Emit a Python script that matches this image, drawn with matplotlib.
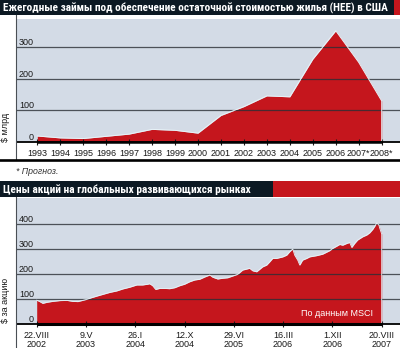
import os
import numpy as np
import matplotlib
matplotlib.use("Agg")
import matplotlib.pyplot as plt
import matplotlib.dates as mdates
import matplotlib.transforms as mtransforms
from matplotlib.patches import Rectangle
from matplotlib.lines import Line2D
from matplotlib import font_manager
from matplotlib.font_manager import FontProperties

# ---------------- data ----------------
hee_years = [1993, 1994, 1995, 1996, 1997, 1998, 1999, 2000,
             2001, 2002, 2003, 2004, 2005, 2006, 2007, 2008]
hee_values = [18, 12, 10, 17, 24, 39, 36, 27,
              83, 111, 145, 142, 261, 351, 251, 129]
hee_labels = ['1993', '1994', '1995', '1996', '1997', '1998', '1999', '2000',
              '2001', '2002', '2003', '2004', '2005', '2006', '2007*', '2008*']
hee_grid = [100, 200, 300]
hee_ticklabels = [0, 100, 200, 300]

msci_dates = [
    '2002-08-22', '2002-09-07', '2002-09-23', '2002-10-14', '2002-11-15',
    '2002-12-22', '2003-01-28', '2003-02-28', '2003-03-27', '2003-04-17',
    '2003-05-13', '2003-06-09', '2003-07-05', '2003-08-06', '2003-09-12',
    '2003-10-19', '2003-11-20', '2003-12-27', '2004-02-02', '2004-03-04',
    '2004-03-31', '2004-04-10', '2004-04-26', '2004-05-12', '2004-06-02',
    '2004-06-29', '2004-07-25', '2004-08-21', '2004-09-16', '2004-10-12',
    '2004-11-08', '2004-12-04', '2004-12-31', '2005-01-26', '2005-02-22',
    '2005-03-10', '2005-04-05', '2005-05-01', '2005-05-28', '2005-06-23',
    '2005-07-20', '2005-08-15', '2005-09-21', '2005-10-07', '2005-10-28',
    '2005-11-29', '2005-12-20', '2006-01-05', '2006-01-21', '2006-02-11',
    '2006-02-27', '2006-03-15', '2006-04-05', '2006-04-21', '2006-05-07',
    '2006-05-17', '2006-06-02', '2006-06-13', '2006-06-28', '2006-07-20',
    '2006-08-04', '2006-09-10', '2006-10-12', '2006-11-18', '2006-12-04',
    '2006-12-25', '2007-01-10', '2007-01-26', '2007-02-16', '2007-03-04',
    '2007-03-15', '2007-03-30', '2007-04-15', '2007-05-12', '2007-06-02',
    '2007-06-18', '2007-07-04', '2007-07-15', '2007-07-25', '2007-08-05',
    '2007-08-10', '2007-08-20']
msci_values = [
    94, 88, 81, 85, 89,
    92, 93, 89, 88, 92,
    97, 104, 110, 117, 125,
    131, 139, 146, 155, 155,
    158, 160, 152, 137, 141,
    141, 140, 144, 152, 158,
    168, 175, 178, 187, 195,
    186, 179, 182, 184, 191,
    198, 215, 222, 212, 208,
    228, 235, 248, 262, 262,
    265, 268, 275, 289, 300,
    275, 255, 235, 255, 262,
    268, 273, 279, 293, 302,
    311, 318, 315, 322, 326,
    306, 322, 336, 349, 356,
    365, 379, 392, 405, 396,
    383, 360]
msci_tick_dates = ['2002-08-22', '2003-05-09', '2004-01-26', '2004-10-12',
                   '2005-06-29', '2006-03-16', '2006-12-01', '2007-08-20']
msci_tick_labels = ['22.VIII\n2002', '9.V\n2003', '26.I\n2004', '12.X\n2004',
                    '29.VI\n2005', '16.III\n2006', '1.XII\n2006', '20.VIII\n2007']
msci_grid = [100, 200, 300, 400]
msci_ticklabels = [0, 100, 200, 300, 400]

title_top = 'Ежегодные займы под обеспечение остаточной стоимостью жилья (HEE) в США'
title_bottom = 'Цены акций на глобальных развивающихся рынках'

# ---------------- style ----------------
NAVY = '#0c1923'
RED = '#c5161d'
BG = '#d3dbe6'
GRID = '#2a2e35'
EDGE = '#e8f3f8'


def pick_family(candidates):
    for fam in candidates:
        try:
            font_manager.findfont(FontProperties(family=fam),
                                  fallback_to_default=False)
            return fam
        except Exception:
            continue
    return 'DejaVu Sans'


def is_bold(entry):
    w = entry.weight
    if isinstance(w, str):
        return w in ('bold', 'heavy', 'black', 'extra bold', 'semibold', 'demibold')
    return w >= 600


def narrow_bold_font():
    """Return FontProperties of a bold narrow face, best first."""
    order = ['liberation sans narrow', 'arial narrow', 'roboto condensed',
             'noto sans', 'open sans', 'dejavu sans']
    found = {}
    for e in font_manager.fontManager.ttflist:
        base = os.path.basename(e.fname).lower()
        narrow = ('narrow' in base or 'condensed' in base
                  or e.stretch in ('condensed', 'semi-condensed', 'extra-condensed'))
        if not narrow or 'semicondensed' in base or 'extracondensed' in base \
                or 'italic' in base or 'oblique' in base or not is_bold(e):
            continue
        name = e.name.lower()
        for i, key in enumerate(order):
            if name.startswith(key):
                if i not in found or 'bold.' in base:
                    found[i] = e.fname
    if found:
        return FontProperties(fname=found[min(found)])
    return FontProperties(family=pick_family(['Liberation Sans', 'DejaVu Sans']),
                          weight='bold')


SANS = pick_family(['Liberation Sans', 'Arial', 'DejaVu Sans'])
plt.rcParams['font.family'] = [SANS, 'DejaVu Sans']
TITLE_FP = narrow_bold_font()

W, H, DPI = 400, 348, 100
fig = plt.figure(figsize=(W / DPI, H / DPI), dpi=DPI, facecolor='white')
# pixel coordinates measured from the top-left corner
pix = mtransforms.Affine2D().scale(1 / W, -1 / H).translate(0, 1) + fig.transFigure
renderer = fig.canvas.get_renderer()


def add_px_axes(x0, y0, x1, y1):
    return fig.add_axes([x0 / W, 1 - y1 / H, (x1 - x0) / W, (y1 - y0) / H])


def title_bar(y0, y1, split, text):
    fig.add_artist(Rectangle((0, y0), split, y1 - y0, transform=pix,
                             facecolor=NAVY, edgecolor='none'))
    fig.add_artist(Rectangle((split, y0), W - split, y1 - y0, transform=pix,
                             facecolor=RED, edgecolor='none'))
    t = fig.text(3, (y0 + y1) / 2 + 0.5, text, transform=pix, color='white',
                 fontproperties=TITLE_FP.copy(), ha='left', va='center')
    t.set_fontsize(9.3)
    return t


def style_axes(ax, grid_vals, label_vals, ymax):
    ax.set_facecolor(BG)
    for s in ax.spines.values():
        s.set_visible(False)
    ax.set_ylim(0, ymax)
    ax.set_yticks([])
    for v in grid_vals:
        ax.axhline(v, color=GRID, lw=0.9, alpha=0.8, zorder=2.5)
    ax.axhline(0, color='black', lw=1.3, zorder=4, clip_on=False)
    lab_tr = mtransforms.offset_copy(
        mtransforms.blended_transform_factory(ax.transAxes, ax.transData),
        fig=fig, x=0, y=2, units='dots')
    xr = (34 - 16.5) / (W - 16.5)
    for v in label_vals:
        ax.text(xr, v, str(v), transform=lab_tr, ha='right', va='baseline',
                fontsize=6.5, color='#1a1a1a', zorder=5)
    ax.tick_params(axis='x', direction='inout', length=4.5, width=0.8,
                   color='#1a1a1a', labelsize=6.5, labelcolor='#1a1a1a')


# ---------------- top chart ----------------
t_top = title_bar(0, 15, 394, title_top)
ax1 = add_px_axes(16.5, 18.5, W, 141.7)
style_axes(ax1, hee_grid, hee_ticklabels, 390)
ax1.set_xlim(1992.094, 2008.797)
ax1.fill_between(hee_years, hee_values, 0, color=RED, lw=0, zorder=1)
ax1.plot(hee_years + [hee_years[-1]], hee_values + [0], color=EDGE, lw=0.7, zorder=3)
ax1.plot([hee_years[0], hee_years[-1]], [0, 0], color='black', lw=1.8,
         solid_capstyle='butt', zorder=4, clip_on=False)
ax1.set_xticks(hee_years)
ax1.set_xticklabels(hee_labels)
ax1.tick_params(axis='x', pad=3.2)

fig.add_artist(Line2D([16, 16], [15, 159], transform=pix, color='#4a4f55', lw=0.8))
fig.add_artist(Line2D([0, W], [159.7, 159.7], transform=pix, color='black', lw=1.9))
fig.text(16, 172, '* Прогноз.', transform=pix, fontsize=6.3, style='italic',
         color='#333333', ha='left', va='center')
fig.text(5.5, 142, '$ млрд', transform=pix, fontsize=6.5, rotation=90,
         ha='center', va='bottom', color='#1a1a1a')

# ---------------- bottom chart ----------------
t_bot = title_bar(181, 197.3, 273, title_bottom)
ax2 = add_px_axes(16.5, 198.3, W, 323.5)
style_axes(ax2, msci_grid, msci_ticklabels, 504)
d = mdates.date2num(np.array(msci_dates, dtype='datetime64[D]'))
t = mdates.date2num(np.array(msci_tick_dates, dtype='datetime64[D]'))
ax2.set_xlim(d[0] - 106.8, d[0] + 1920.8)
ax2.fill_between(d, msci_values, 0, color=RED, lw=0, zorder=1)
ax2.plot(np.append(d, d[-1]), msci_values + [0], color=EDGE, lw=0.6, zorder=3)
ax2.plot([d[0], d[-1]], [0, 0], color='black', lw=2.2,
         solid_capstyle='butt', zorder=4, clip_on=False)
ax2.set_xticks(t)
ax2.set_xticklabels(msci_tick_labels, linespacing=1.05)
ax2.tick_params(axis='x', pad=3.0)
ax2.text(0.93, 0.045, 'По данным MSCI', transform=ax2.transAxes, color='white',
         fontsize=6.5, ha='right', va='bottom', zorder=5)

fig.add_artist(Line2D([16, 16], [197.3, H], transform=pix, color='#4a4f55', lw=0.8))
fig.text(5.5, 323, '$ за акцию', transform=pix, fontsize=6.5, rotation=90,
         ha='center', va='bottom', color='#1a1a1a')

# fit the top title to the width of its bar; the lower title uses the same size
width = t_top.get_window_extent(renderer).width
size = min(9.3, 9.3 * 385.0 / width)
t_top.set_fontsize(size)
t_bot.set_fontsize(size)

fig.savefig('out.png', dpi=DPI, facecolor='white')
